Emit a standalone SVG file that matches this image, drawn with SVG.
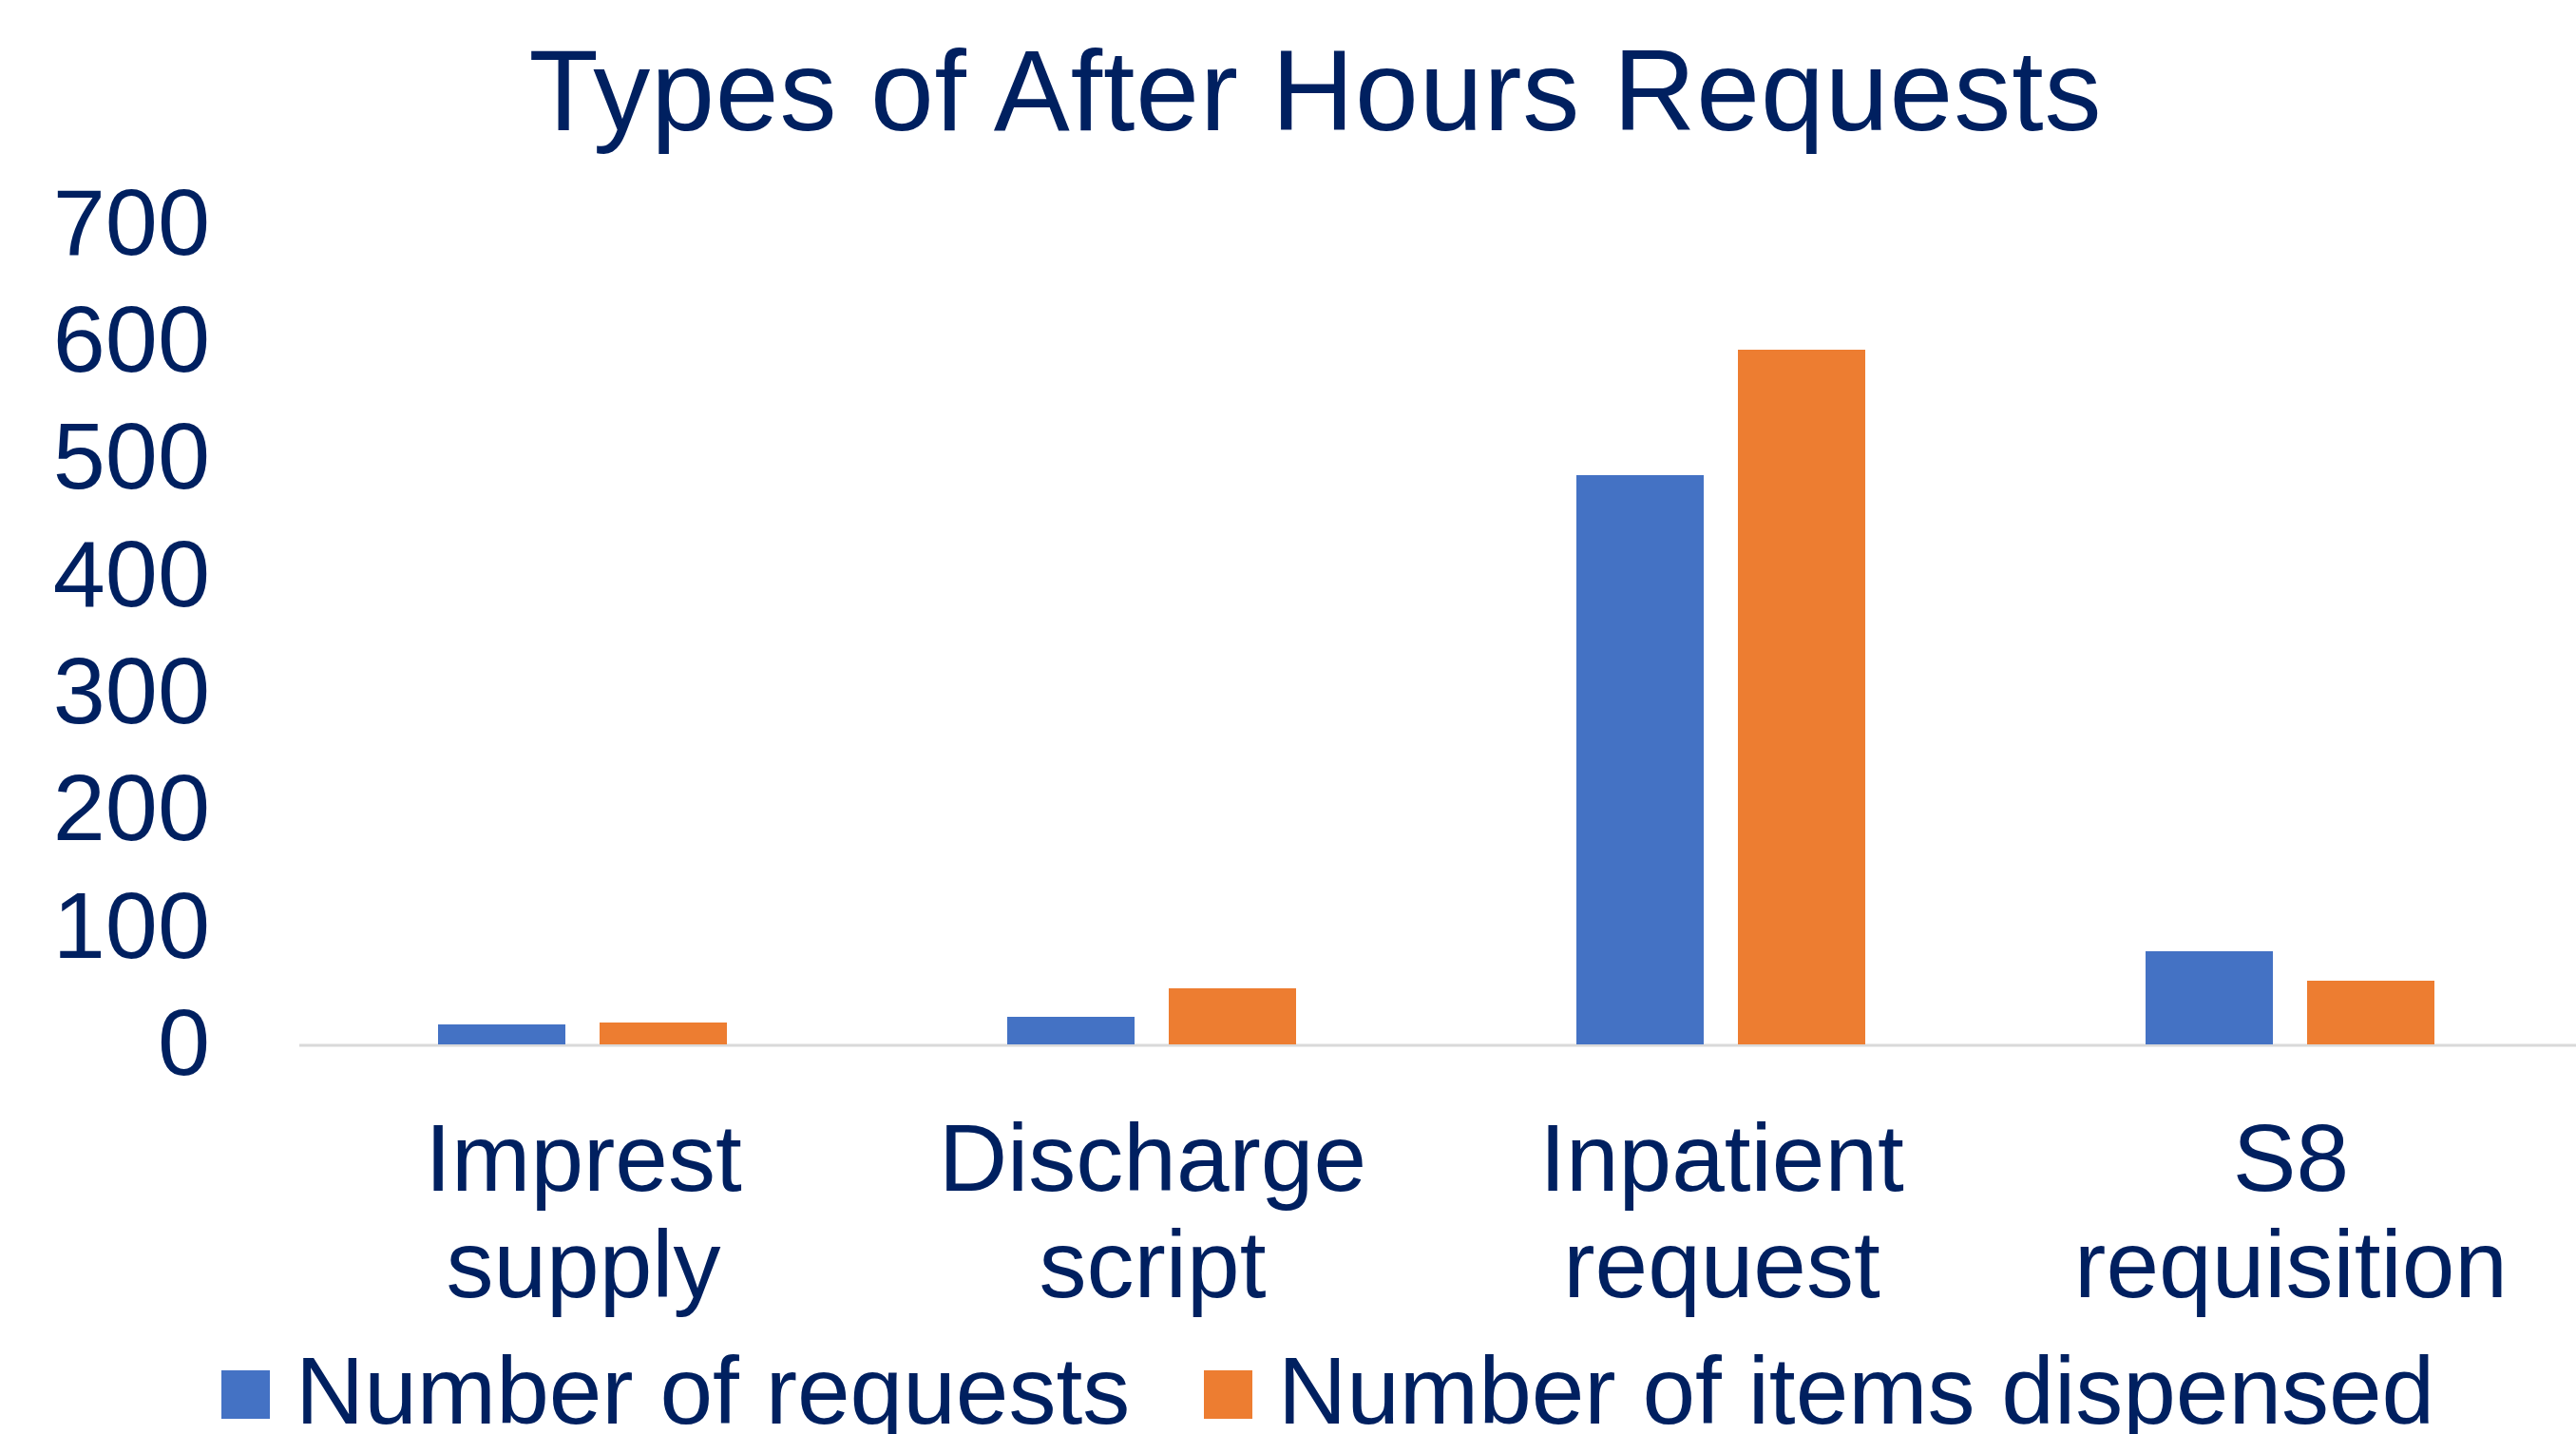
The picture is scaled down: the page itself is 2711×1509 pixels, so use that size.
<svg xmlns="http://www.w3.org/2000/svg" width="2711" height="1509" viewBox="0 0 2711 1509">
<style>
text{font-family:"Liberation Sans",Arial,sans-serif;fill:#002060}
.title{font-size:120px;text-anchor:middle}
.ax{font-size:99px;text-anchor:end}
.cat{font-size:100px;text-anchor:middle}
.leg{font-size:100px}
.blue{fill:#4472C4}
.orange{fill:#ED7D31}
</style>
<rect width="2711" height="1509" fill="#ffffff"/>
<text id="title" class="title" x="1384" y="137" textLength="1655" lengthAdjust="spacing">Types of After Hours Requests</text>
<g id="y-axis">
<text class="ax" x="221" y="1131">0</text>
<text class="ax" x="221" y="1008">100</text>
<text class="ax" x="221" y="884">200</text>
<text class="ax" x="221" y="761">300</text>
<text class="ax" x="221" y="638">400</text>
<text class="ax" x="221" y="514">500</text>
<text class="ax" x="221" y="391">600</text>
<text class="ax" x="221" y="268">700</text>
</g>
<g id="gridline">
<line x1="315" y1="1100" x2="2711" y2="1100" stroke="#d9d9d9" stroke-width="3"/>
</g>
<g id="bars-requests">
<rect class="blue" x="461" y="1078" width="134" height="21"/>
<rect class="blue" x="1060" y="1070" width="134" height="29"/>
<rect class="blue" x="1659" y="500" width="134" height="599"/>
<rect class="blue" x="2258" y="1001" width="134" height="98"/>
</g>
<g id="bars-items">
<rect class="orange" x="631" y="1076" width="134" height="23"/>
<rect class="orange" x="1230" y="1040" width="134" height="59"/>
<rect class="orange" x="1829" y="368" width="134" height="731"/>
<rect class="orange" x="2428" y="1032" width="134" height="67"/>
</g>
<g id="categories">
<text class="cat" x="614" y="1253">Imprest</text>
<text class="cat" x="614" y="1365">supply</text>
<text class="cat" x="1213" y="1253">Discharge</text>
<text class="cat" x="1213" y="1365">script</text>
<text class="cat" x="1812" y="1253">Inpatient</text>
<text class="cat" x="1812" y="1365">request</text>
<text class="cat" x="2411" y="1253">S8</text>
<text class="cat" x="2411" y="1365">requisition</text>
</g>
<g id="legend">
<rect class="blue" x="233" y="1442" width="51" height="51"/>
<text class="leg" x="311" y="1498">Number of requests</text>
<rect class="orange" x="1267" y="1442" width="51" height="51"/>
<text class="leg" x="1345" y="1498">Number of items dispensed</text>
</g>
</svg>
